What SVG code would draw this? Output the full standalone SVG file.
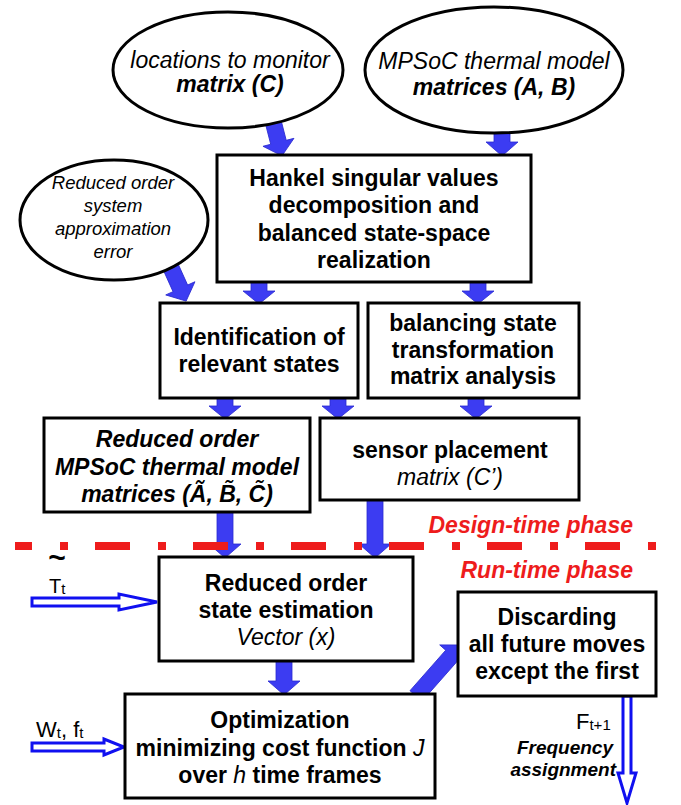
<svg xmlns="http://www.w3.org/2000/svg" width="681" height="805" viewBox="0 0 681 805">
<style>
text{font-family:"Liberation Sans",Arial,sans-serif;fill:#000}
.n{fill:#fff;stroke:#000;stroke-width:3}
.t{font-size:23px;font-weight:bold;text-anchor:middle}
.e{font-size:23px;font-style:italic;text-anchor:middle}
.e3{font-size:18.5px;font-style:italic;text-anchor:middle}
.i{font-style:italic;font-weight:normal}
.bi{font-style:italic;font-weight:bold}
.red{font-size:23px;font-weight:bold;font-style:italic;fill:#ee1c1c;text-anchor:end}
.ba{fill:#3c3cf2;stroke:#2a2ad0;stroke-width:0.8}
.ha{fill:#fff;stroke:#1010f0;stroke-width:3;stroke-linejoin:miter}
.lab{font-size:22px}
.sub{font-size:15px}
</style>
<rect width="681" height="805" fill="#fff"/>

<g id="connectors">
<polygon class="ba" points="494,131 510,131 510,142 518,142 502,156 486,142 494,142"/>
<polygon class="ba" points="251,282 267,282 267,291 275,291 259,304 243,291 251,291"/>
<polygon class="ba" points="470,282 486,282 486,291 494,291 478,304 462,291 470,291"/>
<polygon class="ba" points="217,398 233,398 233,406 241,406 225,419 209,406 217,406"/>
<polygon class="ba" points="330,398 346,398 346,406 354,406 338,419 322,406 330,406"/>
<polygon class="ba" points="468,398 484,398 484,406 492,406 476,419 460,406 468,406"/>
<polygon class="ba" points="217,512 233,512 233,544 241,544 225,558 209,544 217,544"/>
<polygon class="ba" points="367,500 383,500 383,544 391,544 375,558 359,544 367,544"/>
<polygon class="ba" points="276,661 292,661 292,681 300,681 284,695 268,681 276,681"/>
<path class="ba" transform="translate(273,121) rotate(-14.4)" d="M-8 0H8V22H16L0 36L-16 22H-8Z"/>
<path class="ba" transform="translate(168,261) rotate(-24.3)" d="M-8 0H8V30H16L0 44L-16 30H-8Z"/>
<path class="ba" transform="translate(416,696) rotate(-138.6)" d="M-8 0H8V54H16L0 68L-16 54H-8Z"/>
<polygon class="ha" points="32,598 119,598 119,594 157,602 119,610 119,606 32,606"/>
<polygon class="ha" points="32,743 104,743 104,739 124,747 104,755 104,751 32,751"/>
<polygon class="ha" points="623,696 631,696 631,773 636,773 627,803 618,773 623,773"/>
<line x1="15" y1="546" x2="668" y2="546" stroke="#ee1c1c" stroke-width="8" stroke-dasharray="35 28 8 27" stroke-dashoffset="18"/>
</g>

<g id="ellipse-locations">
<ellipse class="n" cx="228" cy="70" rx="115" ry="58"/>
<text class="e" x="230" y="68">locations to monitor</text>
<text class="e" x="230" y="92"><tspan font-weight="bold">matrix (C)</tspan></text>
</g>

<g id="ellipse-thermal">
<ellipse class="n" cx="494" cy="70" rx="129" ry="63"/>
<text class="e" x="494" y="69">MPSoC thermal model</text>
<text class="e" x="494" y="95"><tspan font-weight="bold">matrices (A, B)</tspan></text>
</g>

<g id="ellipse-error">
<ellipse class="n" cx="114" cy="220" rx="94" ry="60"/>
<text class="e3" x="113" y="189">Reduced order</text>
<text class="e3" x="113" y="212">system</text>
<text class="e3" x="113" y="235">approximation</text>
<text class="e3" x="113" y="258">error</text>
</g>

<g id="hankel">
<rect class="n" x="217" y="155" width="314" height="127"/>
<text class="t" x="374" y="186">Hankel singular values</text>
<text class="t" x="374" y="213">decomposition and</text>
<text class="t" x="374" y="241">balanced state-space</text>
<text class="t" x="374" y="268">realization</text>
</g>

<g id="identification">
<rect class="n" x="160" y="303" width="198" height="95"/>
<text class="t" x="259" y="345">Identification of</text>
<text class="t" x="259" y="372">relevant states</text>
</g>

<g id="balancing">
<rect class="n" x="368" y="303" width="211" height="95"/>
<text class="t" x="473" y="331">balancing state</text>
<text class="t" x="473" y="358">transformation</text>
<text class="t" x="473" y="384">matrix analysis</text>
</g>

<g id="reduced-model">
<rect class="n" x="44" y="418" width="266" height="94"/>
<text class="t bi" x="177" y="447">Reduced order</text>
<text class="t bi" x="177" y="475">MPSoC thermal model</text>
<text class="t bi" x="177" y="502">matrices (Ã, B̃, C̃)</text>
</g>

<g id="sensor">
<rect class="n" x="320" y="418" width="259" height="82"/>
<text class="t" x="450" y="458">sensor placement</text>
<text class="t i" x="450" y="485">matrix (C’)</text>
</g>

<g id="phase-labels">
<text class="red" x="633" y="533">Design-time phase</text>
<text class="red" x="633" y="578">Run-time phase</text>
</g>

<g id="state-estimation">
<rect class="n" x="159" y="557" width="254" height="104"/>
<text class="t" x="286" y="591">Reduced order</text>
<text class="t" x="286" y="618">state estimation</text>
<text class="t i" x="286" y="645">Vector (x)</text>
</g>

<g id="discarding">
<rect class="n" x="458" y="592" width="198" height="104"/>
<text class="t" x="557" y="625">Discarding</text>
<text class="t" x="557" y="652">all future moves</text>
<text class="t" x="557" y="679">except the first</text>
</g>

<g id="optimization">
<rect class="n" x="125" y="694" width="310" height="104"/>
<text class="t" x="280" y="728">Optimization</text>
<text class="t" x="280" y="756">minimizing cost function <tspan class="i">J</tspan></text>
<text class="t" x="280" y="783">over <tspan class="i">h</tspan> time frames</text>
</g>

<g id="io-labels">
<text x="57" y="568" font-size="30" font-weight="bold" text-anchor="middle">~</text>
<text x="49" y="593" font-size="20">T<tspan class="sub" dy="1">t</tspan></text>
<text class="lab" x="36" y="737">W<tspan class="sub" dy="1">t</tspan><tspan dy="-1">, f</tspan><tspan class="sub" dy="1">t</tspan></text>
<text class="lab" x="576" y="729">F<tspan class="sub" dy="1">t+1</tspan></text>
<text x="613" y="754" font-size="19" font-weight="bold" font-style="italic" text-anchor="end">Frequency</text>
<text x="616" y="776" font-size="19" font-weight="bold" font-style="italic" text-anchor="end">assignment</text>
</g>
</svg>
